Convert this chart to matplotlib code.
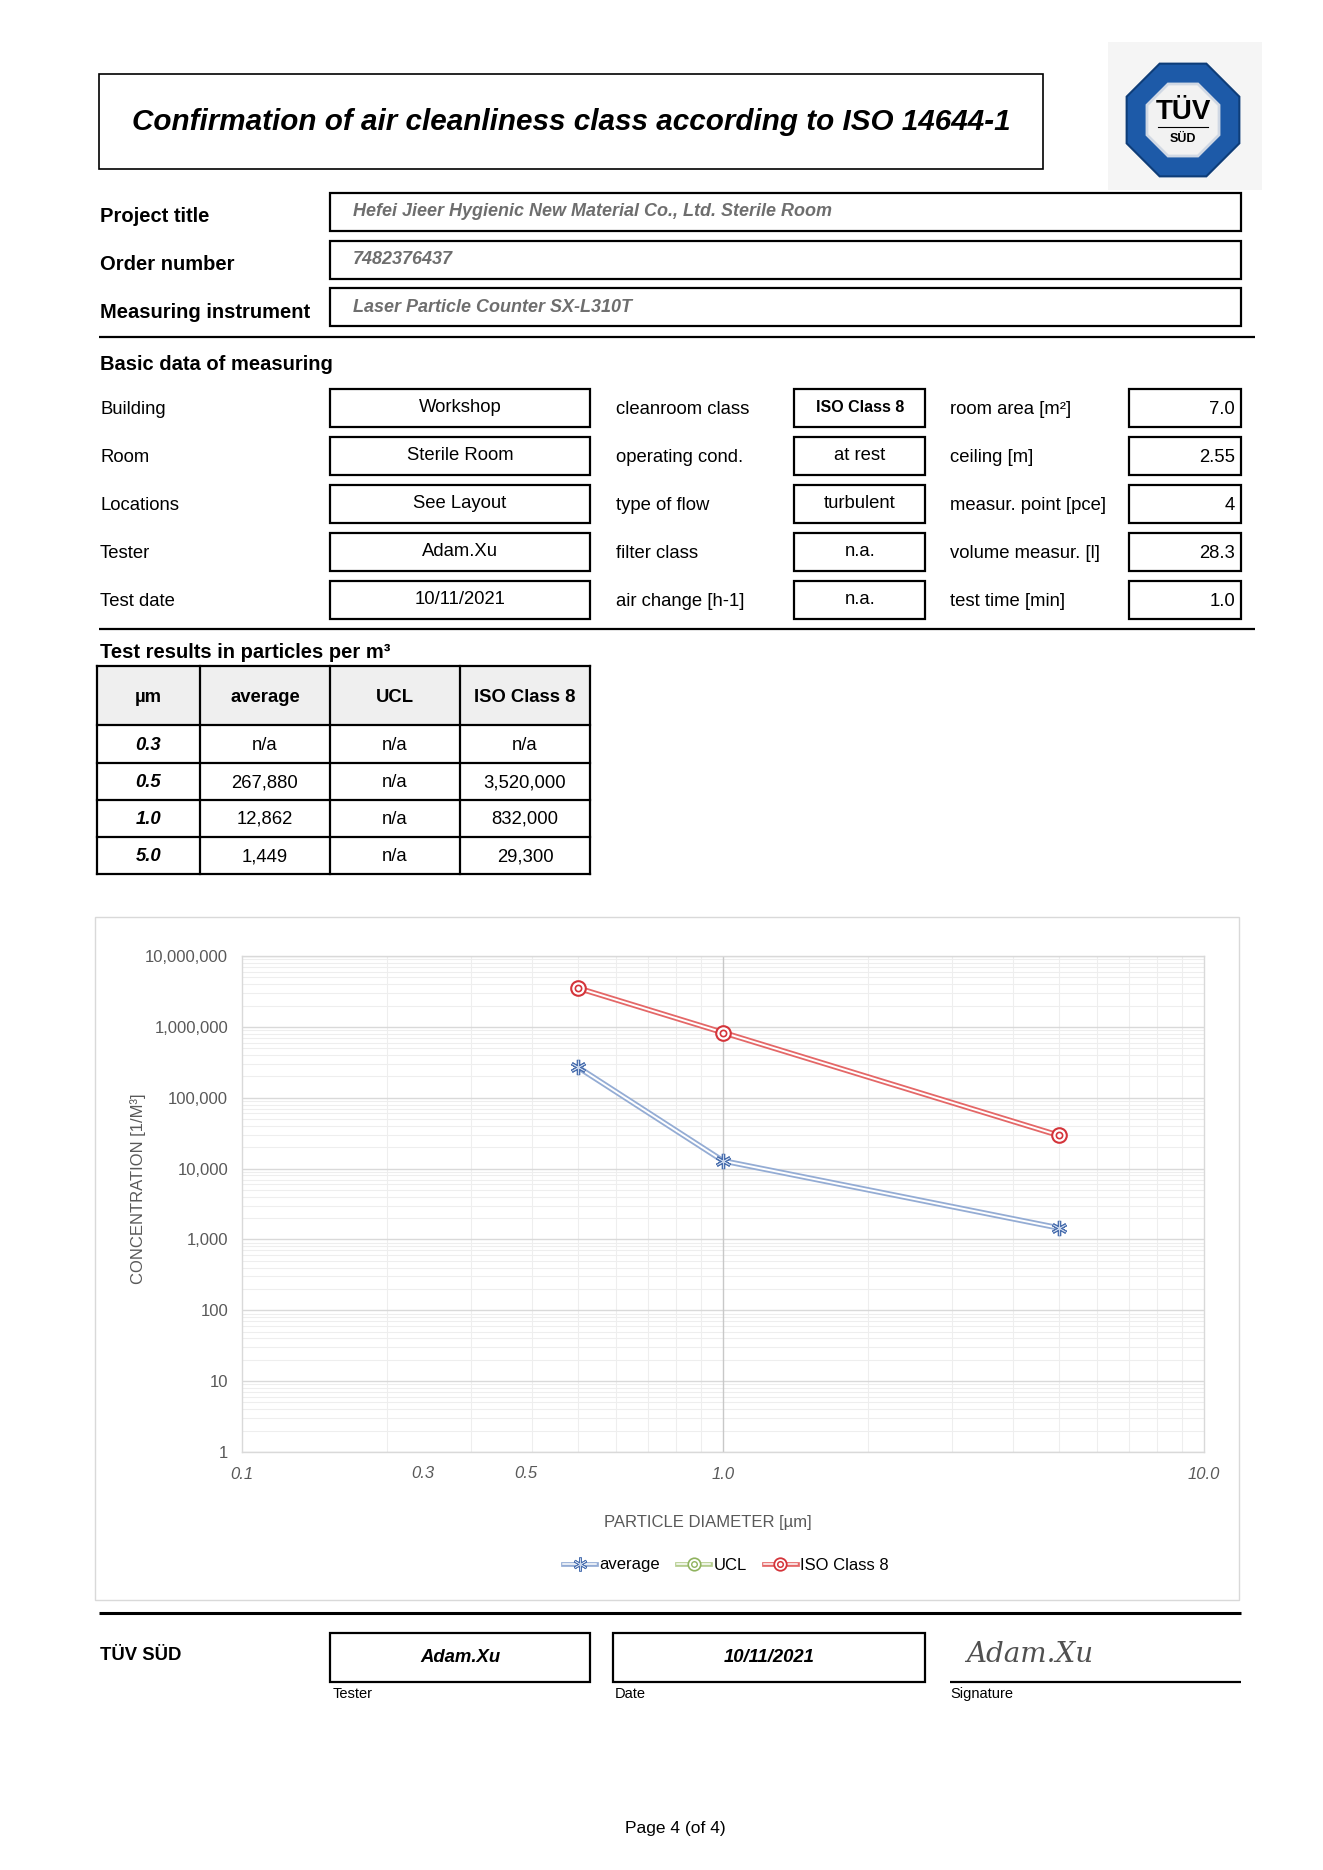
import numpy as np
import matplotlib
matplotlib.use("Agg")
import matplotlib.pyplot as plt
from matplotlib.patches import Rectangle, RegularPolygon
from matplotlib.lines import Line2D
from matplotlib.legend_handler import HandlerTuple
from matplotlib.ticker import FixedLocator, LogLocator, NullFormatter, FuncFormatter

plt.rcParams['font.family'] = ['Liberation Sans', 'DejaVu Sans']

# ---- data ----
title = "Confirmation of air cleanliness class according to ISO 14644-1"
head_labels = ["Project title", "Order number", "Measuring instrument"]
head_values = ["Hefei Jieer Hygienic New Material Co., Ltd. Sterile Room",
               "7482376437",
               "Laser Particle Counter SX-L310T"]

basic_labels_1 = ["Building", "Room", "Locations", "Tester", "Test date"]
basic_values_1 = ["Workshop", "Sterile Room", "See Layout", "Adam.Xu", "10/11/2021"]
basic_labels_2 = ["cleanroom class", "operating cond.", "type of flow", "filter class", "air change [h-1]"]
basic_values_2 = ["ISO Class 8", "at rest", "turbulent", "n.a.", "n.a."]
basic_labels_3 = ["room area [m²]", "ceiling [m]", "measur. point [pce]", "volume measur. [l]", "test time [min]"]
basic_values_3 = ["7.0", "2.55", "4", "28.3", "1.0"]

table_header = ["µm", "average", "UCL", "ISO Class 8"]
sizes = [0.3, 0.5, 1.0, 5.0]
average = [np.nan, 267880, 12862, 1449]
ucl = [np.nan, np.nan, np.nan, np.nan]
iso_class = [np.nan, 3520000, 832000, 29300]

y_ticks = [1, 10, 100, 1000, 10000, 100000, 1000000, 10000000]
x_ticks = [0.1, 1.0, 10.0]
x_extra_labels = ["0.3", "0.5"]

tester = "Adam.Xu"
test_date = "10/11/2021"

W, H = 1323, 1870
fig = plt.figure(figsize=(W / 100, H / 100), dpi=100)
pg = fig.add_axes([0, 0, 1, 1], zorder=0)
pg.set_xlim(0, W)
pg.set_ylim(H, 0)
pg.axis('off')

GREY_TXT = '#6e6e6e'


def box(x0, y0, x1, y1, lw=1.6, ec='black', fc='none', z=1):
    pg.add_patch(Rectangle((x0, y0), x1 - x0, y1 - y0, lw=lw, ec=ec, fc=fc, zorder=z))


def hline(y, x0=99, x1=1255, lw=1.6):
    pg.plot([x0, x1], [y, y], color='black', lw=lw, solid_capstyle='butt')


# title
box(99, 74, 1043, 169, lw=1.2)
pg.text(571, 122, title, ha='center', va='center', fontsize=21.3,
        fontweight='bold', fontstyle='italic')

# logo
pg.add_patch(Rectangle((1108, 42), 154, 148, fc='#f5f5f5', ec='none'))
pg.add_patch(RegularPolygon((1183, 120), 8, radius=61, orientation=np.pi / 8,
                            fc='#1d5aa8', ec='#0e3d78', lw=1.5))
pg.add_patch(RegularPolygon((1183, 120), 8, radius=39, orientation=np.pi / 8,
                            fc='#f2f2f2', ec='#d0d8e4', lw=2))
pg.text(1183, 112, "TÜV", ha='center', va='center', fontsize=20, fontweight='bold')
pg.plot([1158, 1208], [127, 127], color='black', lw=0.8)
pg.text(1183, 139, "SÜD", ha='center', va='center', fontsize=9, fontweight='bold')

# project rows
for i, (lab, val) in enumerate(zip(head_labels, head_values)):
    y0 = 193 + i * 47.5
    box(330, y0, 1241, y0 + 38)
    pg.text(100, y0 + 24, lab, ha='left', va='center', fontsize=14.5, fontweight='bold')
    pg.text(353, y0 + 19, val, ha='left', va='center', fontsize=13,
            fontweight='bold', fontstyle='italic', color=GREY_TXT)
hline(337)

# basic data
pg.text(100, 364, "Basic data of measuring", ha='left', va='center', fontsize=14.5, fontweight='bold')
for i in range(5):
    y0 = 389 + i * 48
    yc = y0 + 20
    pg.text(100, yc, basic_labels_1[i], ha='left', va='center', fontsize=13.3)
    box(330, y0, 590, y0 + 38)
    pg.text(460, yc - 1, basic_values_1[i], ha='center', va='center', fontsize=13.3)
    pg.text(616, yc, basic_labels_2[i], ha='left', va='center', fontsize=13.3)
    box(794, y0, 925, y0 + 38)
    bold = basic_values_2[i].startswith("ISO")
    pg.text(860, yc - 1, basic_values_2[i], ha='center', va='center',
            fontsize=11.5 if bold else 13.3, fontweight='bold' if bold else 'normal')
    pg.text(950, yc, basic_labels_3[i], ha='left', va='center', fontsize=13.3)
    box(1129, y0, 1241, y0 + 38)
    pg.text(1235, yc, basic_values_3[i], ha='right', va='center', fontsize=13.3)
hline(629)

# results table
pg.text(100, 652, "Test results in particles per m³", ha='left', va='center',
        fontsize=14.5, fontweight='bold')
col_x = [97, 200, 330, 460, 590]
row_y = [666, 725, 763, 800, 837, 874]
pg.add_patch(Rectangle((col_x[0], row_y[0]), col_x[-1] - col_x[0], row_y[1] - row_y[0],
                       fc='#efefef', ec='none'))
for j, txt in enumerate(table_header):
    pg.text((col_x[j] + col_x[j + 1]) / 2, (row_y[0] + row_y[1]) / 2 + 2, txt,
            ha='center', va='center', fontsize=13.3, fontweight='bold')


def fmt(v):
    return "n/a" if np.isnan(v) else f"{v:,.0f}"


for i, s in enumerate(sizes):
    yc = (row_y[i + 1] + row_y[i + 2]) / 2 + 1
    cells = [f"{s:.1f}", fmt(average[i]), fmt(ucl[i]), fmt(iso_class[i])]
    for j, txt in enumerate(cells):
        kw = dict(fontweight='bold', fontstyle='italic') if j == 0 else {}
        pg.text((col_x[j] + col_x[j + 1]) / 2, yc, txt, ha='center', va='center',
                fontsize=13.3, **kw)
for x in col_x:
    pg.plot([x, x], [row_y[0], row_y[-1]], color='black', lw=1.6)
for y in row_y:
    pg.plot([col_x[0], col_x[-1]], [y, y], color='black', lw=1.6)

# chart frame
pg.add_patch(Rectangle((95, 917), 1144, 683, fc='white', ec='#d9d9d9', lw=1))

px0, px1, py0, py1 = 242, 1204, 956, 1452
ax = fig.add_axes([px0 / W, 1 - py1 / H, (px1 - px0) / W, (py1 - py0) / H], zorder=2)
ax.set_xscale('log')
ax.set_yscale('log')
ax.set_xlim(0.1, 10)
ax.set_ylim(1, 1e7)
ax.xaxis.set_major_locator(FixedLocator(x_ticks))
ax.xaxis.set_major_formatter(FuncFormatter(lambda v, p: f"{v:.1f}"))
ax.xaxis.set_minor_locator(LogLocator(base=10, subs=np.arange(2, 10)))
ax.xaxis.set_minor_formatter(NullFormatter())
ax.yaxis.set_major_locator(FixedLocator(y_ticks))
ax.yaxis.set_major_formatter(FuncFormatter(lambda v, p: f"{v:,.0f}"))
ax.yaxis.set_minor_locator(LogLocator(base=10, subs=np.arange(2, 10)))
ax.yaxis.set_minor_formatter(NullFormatter())
ax.tick_params(which='both', length=0)
ax.tick_params(axis='y', pad=10, labelsize=12, labelcolor='#595959')
ax.tick_params(axis='x', pad=10.5, labelsize=12, labelcolor='#595959')
for lab in ax.get_xticklabels():
    lab.set_fontstyle('italic')
ax.grid(True, which='minor', color='#eeeeee', lw=0.8)
ax.grid(True, which='major', axis='y', color='#d9d9d9', lw=1)
ax.axvline(1.0, color='#c8c8c8', lw=1, zorder=1)
for sp in ax.spines.values():
    sp.set_color('#d9d9d9')
    sp.set_linewidth(1)
ax.set_axisbelow(True)
for txt, fx in zip(x_extra_labels, [0.188, 0.295]):
    ax.text(fx, -0.044, txt, transform=ax.transAxes, ha='center', va='center',
            fontsize=12, fontstyle='italic', color='#595959')

BLUE, BLUE_M = '#94acd4', '#4a6fae'
RED, RED_M = '#e46767', '#d4343a'
GREEN, GREEN_M = '#b5cd8f', '#8fb25e'
LW_OUT, LW_IN = 4.0, 1.4

ax.plot(sizes, average, color=BLUE, lw=LW_OUT, solid_capstyle='butt', zorder=3)
ax.plot(sizes, average, color='white', lw=LW_IN, zorder=4)
ax.plot(sizes, average, ls='none', marker=(6, 2, 0), ms=11, mec=BLUE_M, mew=2.4, zorder=5)
ax.plot(sizes, average, ls='none', marker=(6, 2, 0), ms=10, mec='#c9d6ec', mew=0.5, zorder=6)
ax.plot(sizes, ucl, color=GREEN, lw=LW_OUT, zorder=3)
ax.plot(sizes, iso_class, color=RED, lw=LW_OUT, solid_capstyle='butt', zorder=3)
ax.plot(sizes, iso_class, color='white', lw=LW_IN, zorder=4)
ax.plot(sizes, iso_class, ls='none', marker='o', ms=10.5, mfc='white', mec=RED_M, mew=1.5, zorder=5)
ax.plot(sizes, iso_class, ls='none', marker='o', ms=4.5, mfc='none', mec=RED_M, mew=1.2, zorder=6)

pg.text(138, 1189, "CONCENTRATION [1/M³]", rotation=90, ha='center', va='center',
        fontsize=12, color='#595959')
pg.text(708, 1522, "PARTICLE DIAMETER [µm]", ha='center', va='center',
        fontsize=12, color='#595959')


def handle(c, mc, outer, inner):
    return (Line2D([], [], color=c, lw=3.4),
            Line2D([], [], color='white', lw=1.1),
            Line2D([], [], ls='none', **outer, mec=mc),
            Line2D([], [], ls='none', **inner, mec=mc))


h_avg = handle(BLUE, BLUE_M, dict(marker=(6, 2, 0), ms=10, mew=2.0),
               dict(marker=(6, 2, 0), ms=9, mew=0.4, mfc='none'))
h_ucl = handle(GREEN, GREEN_M, dict(marker='o', ms=9, mfc='white', mew=1.2),
               dict(marker='o', ms=4, mfc='none', mew=1.0))
h_iso = handle(RED, RED_M, dict(marker='o', ms=9, mfc='white', mew=1.3),
               dict(marker='o', ms=4, mfc='none', mew=1.1))
h_avg[3].set_markeredgecolor('#c9d6ec')
fig.legend([h_avg, h_ucl, h_iso], ["average", "UCL", "ISO Class 8"],
           handler_map={tuple: HandlerTuple(ndivide=1, pad=0)},
           loc='center', bbox_to_anchor=(726 / W, 1 - 1565 / H), ncol=3, frameon=False,
           fontsize=12, handlelength=2.0, handletextpad=0.2, columnspacing=1.0)

# footer
hline(1613, 99, 1241, lw=2.2)
pg.text(100, 1655, "TÜV SÜD", ha='left', va='center', fontsize=13.3, fontweight='bold')
box(330, 1633, 590, 1682)
pg.text(460, 1657, tester, ha='center', va='center', fontsize=13.3,
        fontweight='bold', fontstyle='italic')
box(613, 1633, 925, 1682)
pg.text(769, 1657, test_date, ha='center', va='center', fontsize=13.3,
        fontweight='bold', fontstyle='italic')
hline(1682, 950, 1241)
pg.text(966, 1655, tester, ha='left', va='center', fontsize=20, family='DejaVu Serif',
        fontstyle='italic', fontweight='light', color='#505050')
for txt, x in zip(["Tester", "Date", "Signature"], [333, 615, 950]):
    pg.text(x, 1694, txt, ha='left', va='center', fontsize=10.5)
pg.text(675, 1828, "Page 4 (of 4)", ha='center', va='center', fontsize=12.5)

fig.savefig("out.png", dpi=100, facecolor='white')
